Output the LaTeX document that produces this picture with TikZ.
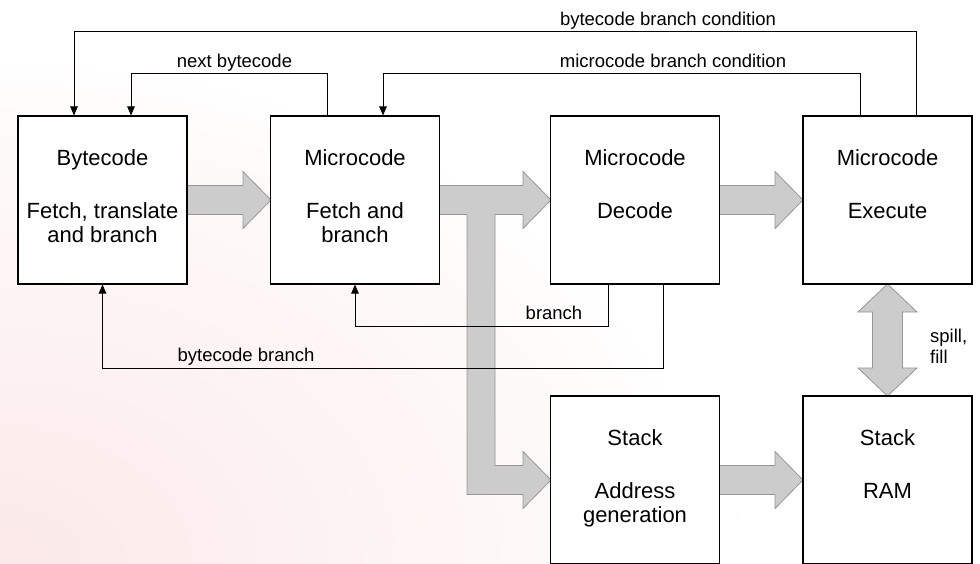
\documentclass[tikz,border=0pt]{standalone}
\usepackage{fontspec}
\setmainfont{Liberation Sans}
\usetikzlibrary{arrows.meta,calc}
\definecolor{fatfill}{RGB}{204,204,204}
\definecolor{fatline}{RGB}{150,150,150}
\definecolor{pinkbg}{RGB}{252,233,233}
\begin{document}
\begin{tikzpicture}[x=1pt,y=-1pt,
  box/.style={draw=black,line width=1.1pt,fill=white,minimum width=169pt,minimum height=168pt,inner sep=0pt},
  boxtext/.style={font=\fontsize{22}{24}\selectfont,anchor=base,inner sep=0pt},
  lbl/.style={font=\fontsize{18.5}{20}\selectfont,anchor=base,inner sep=0pt},
  lbll/.style={lbl,anchor=base west},
  conn/.style={draw=black,line width=1pt,-{Triangle[length=9pt,width=7.5pt]}},
  fat/.style={fill=fatfill,draw=fatline,line width=0.8pt,line join=miter}]
\clip (0,0) rectangle (980,563);
\fill[white] (0,0) rectangle (980,563);
\shade[inner color=pinkbg, outer color=white] (0,563) ellipse (760 and 540);

% boxes (positions)
\path (102.5,200) coordinate (p1) (355,200) coordinate (p2) (635,200) coordinate (p3)
      (887.5,200) coordinate (p4) (635,480) coordinate (p5) (887.5,480) coordinate (p6);

% fat arrows
\draw[fat] (187,185.5) -- (243,185.5) -- (243,171.5) -- (271,200) -- (243,228.5) -- (243,214.5) -- (187,214.5) -- cycle;
\draw[fat] (719,185.5) -- (775,185.5) -- (775,171.5) -- (803,200) -- (775,228.5) -- (775,214.5) -- (719,214.5) -- cycle;
\draw[fat] (719,465.5) -- (775,465.5) -- (775,451.5) -- (803,480) -- (775,508.5) -- (775,494.5) -- (719,494.5) -- cycle;
\draw[fat] (439,185.5) -- (523,185.5) -- (523,171.5) -- (551,200) -- (523,228.5) -- (523,214.5) -- (495,214.5)
  -- (495,465.5) -- (523,465.5) -- (523,451.5) -- (551,480) -- (523,508.5) -- (523,494.5) -- (467,494.5)
  -- (467,214.5) -- (439,214.5) -- cycle;
\draw[fat] (887.5,284) -- (917,312) -- (902.5,312) -- (902.5,368) -- (917,368) -- (887.5,396)
  -- (858,368) -- (872.5,368) -- (872.5,312) -- (858,312) -- cycle;

\node[box] (b1) at (p1) {};
\node[box] (b2) at (p2) {};
\node[box] (b3) at (p3) {};
\node[box] (b4) at (p4) {};
\node[box] (b5) at (p5) {};
\node[box] (b6) at (p6) {};

\node[boxtext] (t1a) at (102.5,165) {Bytecode};
\node[boxtext] (t1b) at (102.5,218) {Fetch, translate};
\node[boxtext] (t1c) at (102.5,242) {and branch};
\node[boxtext] (t2a) at (355,165) {Microcode};
\node[boxtext] (t2b) at (355,218) {Fetch and};
\node[boxtext] (t2c) at (355,242) {branch};
\node[boxtext] (t3a) at (635,165) {Microcode};
\node[boxtext] (t3b) at (635,218) {Decode};
\node[boxtext] (t4a) at (887.5,165) {Microcode};
\node[boxtext] (t4b) at (887.5,218) {Execute};
\node[boxtext] (t5a) at (635,445) {Stack};
\node[boxtext] (t5b) at (635,498) {Address};
\node[boxtext] (t5c) at (635,522) {generation};
\node[boxtext] (t6a) at (887.5,445) {Stack};
\node[boxtext] (t6b) at (887.5,498) {RAM};

% thin connectors
\draw[conn] ([xshift=28.5pt]b4.north) -- ++(0,-84) -| ([xshift=-28.5pt]b1.north);
\draw[conn] ([xshift=-27.5pt]b4.north) -- ++(0,-42) -| ([xshift=28pt]b2.north);
\draw[conn] ([xshift=-28pt]b2.north) -- ++(0,-42) -| ([xshift=28.5pt]b1.north);
\draw[conn] ([xshift=-27pt]b3.south) -- ++(0,42) -| (b2.south);
\draw[conn] ([xshift=28pt]b3.south) -- ++(0,84) -| (b1.south);

% labels
\node[lbl] (l1) at (668,25) {bytecode branch condition};
\node[lbl] (l2) at (673,67) {microcode branch condition};
\node[lbl] (l3) at (234.5,67) {next bytecode};
\node[lbl] (l4) at (554,319) {branch};
\node[lbl] (l5) at (246,361) {bytecode branch};
\node[lbll] (l6) at (930,342) {spill,};
\node[lbll] (l7) at (930,363) {fill};
\end{tikzpicture}
\end{document}
